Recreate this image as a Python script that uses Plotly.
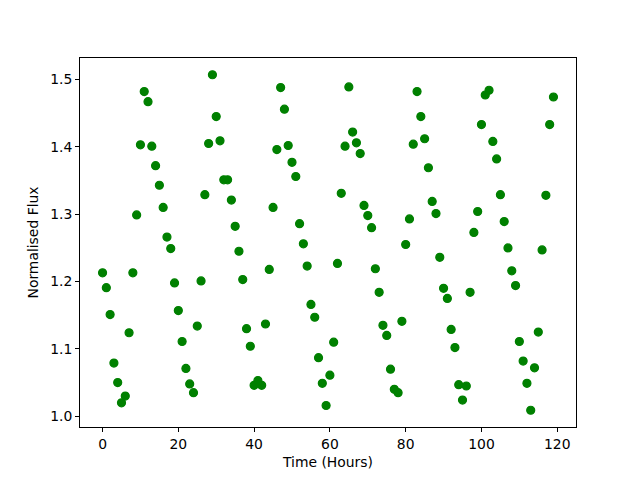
import plotly.graph_objects as go

hours = list(range(120))
flux = [
    1.213, 1.191, 1.151, 1.079, 1.050, 1.020, 1.030, 1.124, 1.213, 1.299,
    1.403, 1.482, 1.467, 1.401, 1.372, 1.343, 1.310, 1.266, 1.249, 1.198,
    1.157, 1.111, 1.071, 1.048, 1.035, 1.134, 1.201, 1.329, 1.405, 1.507,
    1.445, 1.409, 1.351, 1.351, 1.321, 1.282, 1.245, 1.203, 1.130, 1.104,
    1.046, 1.053, 1.046, 1.137, 1.218, 1.310, 1.396, 1.488, 1.456, 1.402,
    1.377, 1.356, 1.286, 1.256, 1.223, 1.166, 1.147, 1.087, 1.049, 1.016,
    1.061, 1.110, 1.227, 1.331, 1.401, 1.489, 1.422, 1.406, 1.390, 1.313,
    1.298, 1.280, 1.219, 1.184, 1.135, 1.120, 1.070, 1.040, 1.035, 1.141,
    1.255, 1.293, 1.404, 1.482, 1.445, 1.412, 1.369, 1.319, 1.301, 1.236,
    1.190, 1.175, 1.129, 1.102, 1.047, 1.024, 1.045, 1.184, 1.273, 1.304,
    1.433, 1.477, 1.484, 1.408, 1.382, 1.329, 1.289, 1.250, 1.216, 1.194,
    1.111, 1.082, 1.049, 1.009, 1.072, 1.125, 1.247, 1.328, 1.433, 1.474,
]
x_ticks = [0, 20, 40, 60, 80, 100, 120]
y_ticks = [1.0, 1.1, 1.2, 1.3, 1.4, 1.5]

xmin, xmax = min(hours), max(hours)
ymin, ymax = min(flux), max(flux)
xpad = (xmax - xmin) * 0.05
ypad = (ymax - ymin) * 0.05

fig = go.Figure()
fig.add_trace(go.Scatter(
    x=hours, y=flux, mode="markers",
    marker=dict(color="#008000", size=8, line=dict(color="#008000", width=1.2)),
    showlegend=False,
))

FS = 13.9
axis_common = dict(
    showline=True, linecolor="black", linewidth=1, mirror=True,
    ticks="outside", ticklen=4, tickwidth=1, tickcolor="black",
    showgrid=False, zeroline=False, automargin=False,
    tickfont=dict(family="DejaVu Sans", size=FS, color="black"),
)

# the page body has an 8px default margin, so the plot area is placed 8px earlier
fig.update_layout(
    width=640, height=480,
    margin=dict(l=72, r=72, t=50, b=61, pad=0),
    paper_bgcolor="white", plot_bgcolor="white",
    font=dict(family="DejaVu Sans", size=FS, color="black"),
    xaxis=dict(range=[xmin - xpad, xmax + xpad], tickvals=x_ticks,
               title=dict(text="Time (Hours)", standoff=6,
                          font=dict(family="DejaVu Sans", size=FS)),
               **axis_common),
    yaxis=dict(range=[ymin - ypad, ymax + ypad], tickvals=y_ticks, tickformat=".1f",
               title=dict(text="Normalised Flux", standoff=8,
                          font=dict(family="DejaVu Sans", size=FS)),
               **axis_common),
)

fig.write_html("out.html")
